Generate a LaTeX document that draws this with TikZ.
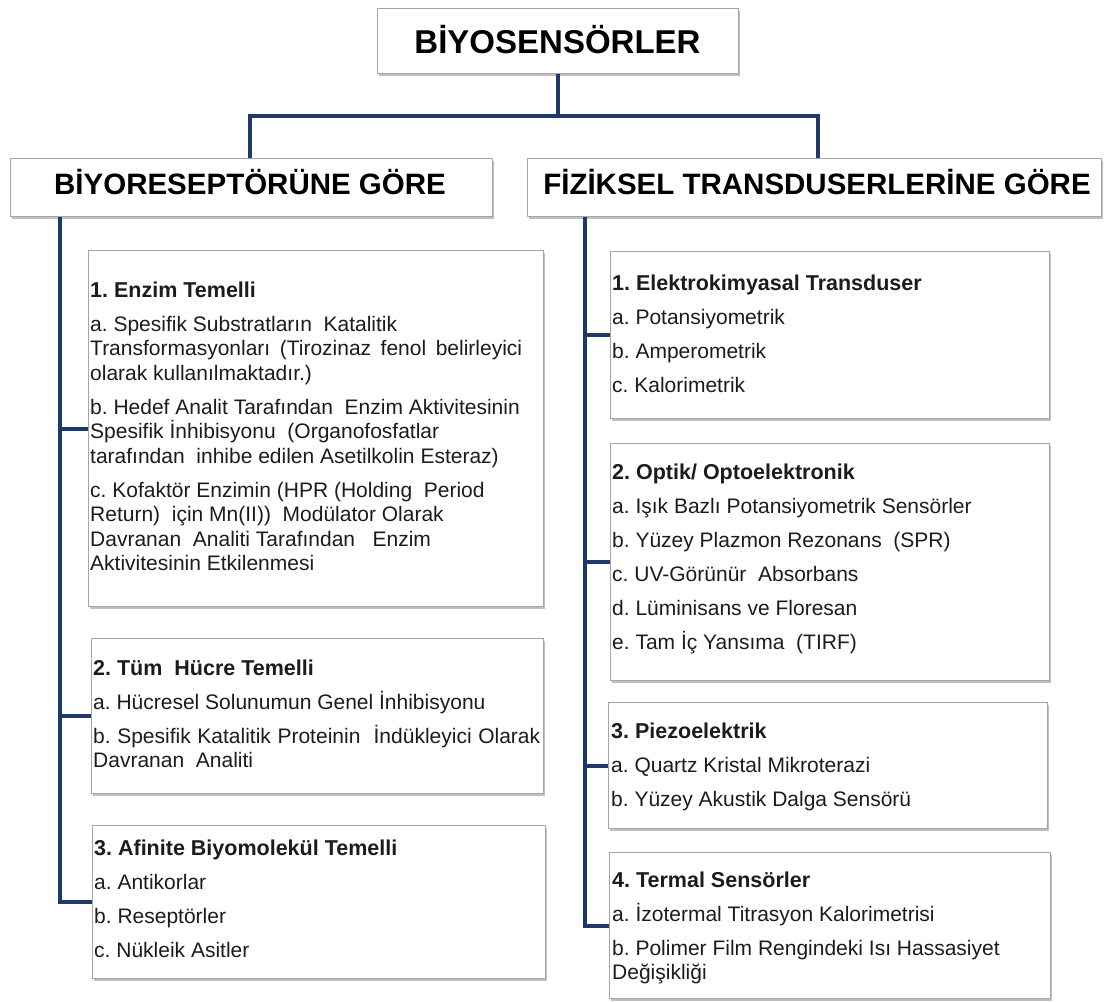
\documentclass[tikz,border=0pt]{standalone}
\usepackage{fontspec}
\setmainfont{Liberation Sans}
\usetikzlibrary{shadows}
\frenchspacing
\definecolor{navy}{RGB}{31,58,104}
\definecolor{boxline}{RGB}{165,165,165}
\definecolor{txt}{RGB}{28,28,28}
\tikzset{
  conn/.style={draw=navy, line width=4pt},
  box/.style={draw=boxline, line width=1.2pt, fill=white, inner sep=0pt, anchor=north west,
    drop shadow={shadow xshift=1.5pt, shadow yshift=-2.5pt, opacity=0.45, fill=black!55}},
  body/.style={inner sep=0pt, anchor=base west, text=txt},
  headtext/.style={inner sep=0pt, anchor=base, text=black, font=\fontsize{29.5}{30}\selectfont\bfseries},
}
\newcommand{\bx}[2]{\parbox[t]{#1pt}{\raggedright\frenchspacing\fontsize{21}{24.5}\selectfont #2}}
\newcommand{\np}{\\[9.5pt]}
\newcommand{\hd}[1]{{\fontsize{21.5}{24.5}\selectfont\bfseries #1}}
\begin{document}
\begin{tikzpicture}[x=1pt,y=-1pt]
\useasboundingbox (0,0) rectangle (1105,1001);
% boxes
\node[box, minimum width=361pt, minimum height=65pt] (top) at (377,8) {};
\node[box, minimum width=482pt, minimum height=58pt] (lh) at (10,158) {};
\node[box, minimum width=574pt, minimum height=58pt] (rh) at (527,158) {};
\node[box, minimum width=455pt, minimum height=356pt] (L1) at (88,250) {};
\node[box, minimum width=452pt, minimum height=155pt] (L2) at (91,638) {};
\node[box, minimum width=453pt, minimum height=153pt] (L3) at (92,825) {};
\node[box, minimum width=439pt, minimum height=167pt] (R1) at (610,251) {};
\node[box, minimum width=439pt, minimum height=237pt] (R2) at (610,443) {};
\node[box, minimum width=439pt, minimum height=126pt] (R3) at (608,702) {};
\node[box, minimum width=441pt, minimum height=146pt] (R4) at (609,852) {};
% connectors
\coordinate (jl) at (250,116);
\coordinate (jr) at (818,116);
\coordinate (sl) at (60,0);
\coordinate (sr) at (585,0);
\draw[conn] (top.south) -- (top.south |- jl);
\draw[conn] (jl |- lh.north) -- (jl) -- (jr) -- (jr |- rh.north);
\draw[conn] (sl |- lh.south) |- (L3.west);
\draw[conn] (sl |- L1.west) -- (L1.west);
\draw[conn] (sl |- L2.west) -- (L2.west);
\draw[conn] (sr |- rh.south) |- (R4.west);
\draw[conn] (sr |- R1.west) -- (R1.west);
\draw[conn] (sr |- R2.west) -- (R2.west);
\draw[conn] (sr |- R3.west) -- (R3.west);
% titles
\node[inner sep=0pt, anchor=base, font=\fontsize{33}{34}\selectfont\bfseries] (topt) at (557.5,53) {BİYOSENSÖRLER};
\node[headtext] (lht) at (250,194) {BİYORESEPTÖRÜNE GÖRE};
\node[headtext] (rht) at (817,194) {FİZİKSEL TRANSDUSERLERİNE GÖRE};
% left texts
\node[body] (L1t) at (90,297) {\bx{450}{\hd{1. Enzim Temelli}\np
a. Spesifik Substratların \ Katalitik\\
\makebox[432pt][s]{Transformasyonları (Tirozinaz fenol belirleyici}\\
olarak kullanılmaktadır.)\np
b. Hedef Analit Tarafından \ Enzim Aktivitesinin\\
Spesifik İnhibisyonu \ (Organofosfatlar\\
tarafından \ inhibe edilen Asetilkolin Esteraz)\np
c. Kofaktör Enzimin (HPR (Holding \ Period\\
Return) \ için Mn(II)) \ Modülator Olarak\\
Davranan \ Analiti Tarafından \ \ Enzim\\
Aktivitesinin Etkilenmesi}};
\node[body] (L2t) at (93,675) {\bx{450}{\hd{2. Tüm \ Hücre Temelli}\np
a. Hücresel Solunumun Genel İnhibisyonu\np
\makebox[447pt][s]{b. Spesifik Katalitik Proteinin \ İndükleyici Olarak}\\
Davranan \ Analiti}};
\node[body] (L3t) at (94,855) {\bx{450}{\hd{3. Afinite Biyomolekül Temelli}\np
a. Antikorlar\np
b. Reseptörler\np
c. Nükleik Asitler}};
% right texts
\node[body] (R1t) at (612,290) {\bx{435}{\hd{1. Elektrokimyasal Transduser}\np
a. Potansiyometrik\np
b. Amperometrik\np
c. Kalorimetrik}};
\node[body] (R2t) at (612,479) {\bx{435}{\hd{2. Optik/ Optoelektronik}\np
a. Işık Bazlı Potansiyometrik Sensörler\np
b. Yüzey Plazmon Rezonans \ (SPR)\np
c. UV-Görünür \ Absorbans\np
d. Lüminisans ve Floresan\np
e. Tam İç Yansıma \ (TIRF)}};
\node[body] (R3t) at (611,738) {\bx{435}{\hd{3. Piezoelektrik}\np
a. Quartz Kristal Mikroterazi\np
b. Yüzey Akustik Dalga Sensörü}};
\node[body] (R4t) at (612,887) {\bx{435}{\hd{4. Termal Sensörler}\np
a. İzotermal Titrasyon Kalorimetrisi\np
b. Polimer Film Rengindeki Isı Hassasiyet\\
Değişikliği}};
\end{tikzpicture}
\end{document}
